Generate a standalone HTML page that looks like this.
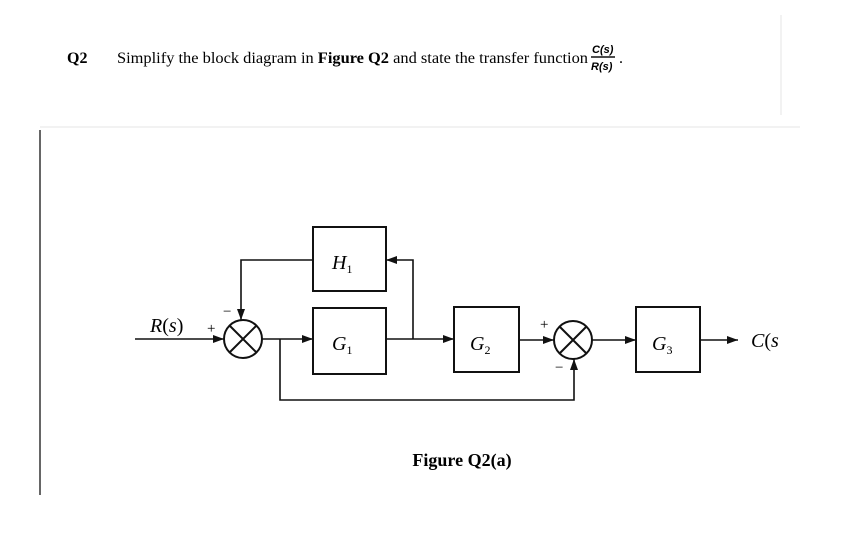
<!DOCTYPE html>
<html><head><style>
body{margin:0;background:#fff;width:854px;height:534px;overflow:hidden;position:relative;font-family:"Liberation Serif",serif;}
</style></head><body>
<svg width="854" height="534" style="position:absolute;left:0;top:0" font-family="Liberation Serif, serif">
<defs><marker id="a" markerWidth="11" markerHeight="8" refX="11" refY="4" orient="auto" markerUnits="userSpaceOnUse"><path d="M0,0 L11,4 L0,8 Z" fill="#111"/></marker></defs>
<line x1="40" y1="130" x2="40" y2="495" stroke="#333" stroke-width="1.5"/>
<line x1="40" y1="127" x2="800" y2="127" stroke="#f2f2f2" stroke-width="2"/>
<line x1="781" y1="15" x2="781" y2="115" stroke="#f2f2f2" stroke-width="2"/>
<text x="67" y="63" font-size="16" font-weight="bold">Q2</text>
<text x="117" y="63" font-size="16" textLength="471" lengthAdjust="spacingAndGlyphs">Simplify the block diagram in <tspan font-weight="bold">Figure Q2</tspan> and state the transfer function</text>
<text x="592" y="53" font-size="11" font-family="Liberation Sans, sans-serif" font-style="italic" font-weight="bold">C(s)</text>
<line x1="591" y1="57" x2="615" y2="57" stroke="#111" stroke-width="1.4"/>
<text x="591" y="70" font-size="11" font-family="Liberation Sans, sans-serif" font-style="italic" font-weight="bold">R(s)</text>
<text x="619" y="63" font-size="16">.</text>
<g stroke="#111" stroke-width="2" fill="none">
<rect x="313" y="227" width="73" height="64"/>
<rect x="313" y="308" width="73" height="66"/>
<rect x="454" y="307" width="65" height="65"/>
<rect x="636" y="307" width="64" height="65"/>
<circle cx="243" cy="339" r="19"/>
<path d="M230,326 L256,352 M256,326 L230,352"/>
<circle cx="573" cy="340" r="19"/>
<path d="M560,327 L586,353 M586,327 L560,353"/>
</g>
<g stroke="#111" stroke-width="1.6" fill="none">
<line x1="135" y1="339" x2="224" y2="339" marker-end="url(#a)"/>
<line x1="262" y1="339" x2="313" y2="339" marker-end="url(#a)"/>
<polyline points="313,260 241,260 241,320" marker-end="url(#a)"/>
<line x1="386" y1="339" x2="454" y2="339" marker-end="url(#a)"/>
<polyline points="413,339 413,260 386,260" marker-end="url(#a)"/>
<line x1="519" y1="340" x2="554" y2="340" marker-end="url(#a)"/>
<polyline points="280,339 280,400 574,400 574,359" marker-end="url(#a)"/>
<line x1="592" y1="340" x2="636" y2="340" marker-end="url(#a)"/>
<line x1="700" y1="340" x2="738" y2="340" marker-end="url(#a)"/>
</g>
<g font-size="20" font-style="italic">
<text x="332" y="269">H<tspan font-size="12" font-style="normal" dy="4">1</tspan></text>
<text x="332" y="350">G<tspan font-size="12" font-style="normal" dy="4">1</tspan></text>
<text x="470" y="350">G<tspan font-size="12" font-style="normal" dy="4">2</tspan></text>
<text x="652" y="350">G<tspan font-size="12" font-style="normal" dy="4">3</tspan></text>
<text x="150" y="332">R<tspan font-style="normal">(</tspan>s<tspan font-style="normal">)</tspan></text>
<text x="751" y="347">C<tspan font-style="normal">(</tspan>s</text>
</g>
<g font-size="15">
<text x="207" y="333">+</text>
<text x="223" y="316">−</text>
<text x="540" y="329">+</text>
<text x="555" y="372">−</text>
</g>
<text x="462" y="466" font-size="18" font-weight="bold" text-anchor="middle">Figure Q2(a)</text>
</svg>
</body></html>
